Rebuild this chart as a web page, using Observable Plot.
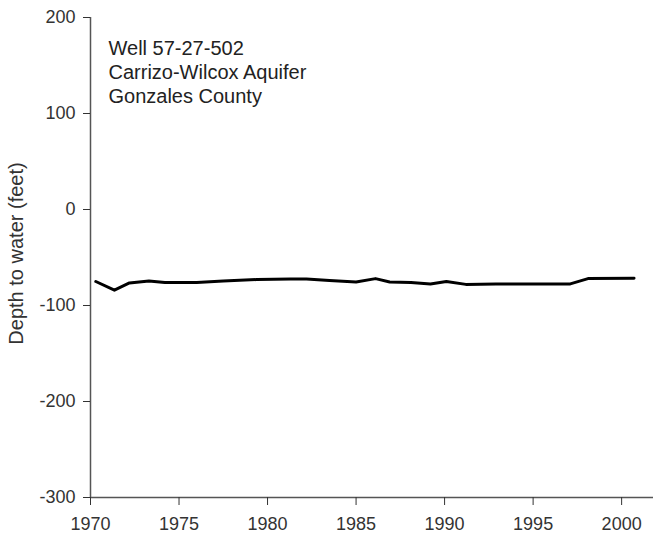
<!DOCTYPE html>
<html>
<head>
<meta charset="utf-8">
<script src="https://cdn.jsdelivr.net/npm/d3@7"></script>
<script src="https://cdn.jsdelivr.net/npm/@observablehq/plot@0.6"></script>
<style>
  html, body { margin: 0; padding: 0; background: #fff; }
</style>
</head>
<body>
<div id="chart"></div>
<script>
const years = [1970.3, 1971.35, 1972.2, 1973.3, 1974.2, 1976.0, 1977.5, 1979.4, 1981.3, 1982.2, 1983.5, 1985.0, 1986.1, 1986.9, 1988.1, 1989.2, 1990.1, 1991.2, 1992.9, 1997.1, 1998.1, 2000.7];
const depths = [-75, -84, -76.5, -74.5, -76, -76, -74.5, -73, -72.5, -72.5, -74, -75.5, -72, -75.5, -76, -77.5, -75, -78, -77.5, -77.5, -72, -71.5];
const xTicks = [1970, 1975, 1980, 1985, 1990, 1995, 2000];
const yTicks = [-300, -200, -100, 0, 100, 200];
const labelLines = ["Well 57-27-502", "Carrizo-Wilcox Aquifer", "Gonzales County"];
const yLabel = "Depth to water (feet)";

const data = years.map((y, i) => ({year: y, depth: depths[i]}));

const chart = Plot.plot({
  width: 653,
  height: 535,
  marginLeft: 90,
  marginRight: 0,
  marginTop: 17,
  marginBottom: 38,
  style: {fontFamily: "'Liberation Sans', Arial, sans-serif", fontSize: "18px", background: "#fff", color: "#333"},
  x: {domain: [1970, 2001.8]},
  y: {domain: [-300, 200]},
  marks: [
    Plot.ruleX([1970], {stroke: "#555", strokeWidth: 1.5}),
    Plot.ruleY([-300], {stroke: "#555", strokeWidth: 1.5}),
    Plot.axisX({ticks: xTicks, tickFormat: d => String(d), tickSize: 8, tickPadding: 12, fontSize: 18, fill: "#333", stroke: "#333", label: null}),
    Plot.axisY({ticks: yTicks, tickFormat: d => String(d), tickSize: 7, tickPadding: 8, fontSize: 18, fill: "#333", stroke: "#333", label: null}),
    Plot.text([yLabel], {frameAnchor: "left", textAnchor: "middle", dx: -74, dy: -4, rotate: -90, fontSize: 20, fill: "#333"}),
    Plot.line(data, {x: "year", y: "depth", stroke: "#000", strokeWidth: 3, strokeLinejoin: "round"}),
    Plot.text([labelLines.join("\n")], {frameAnchor: "top-left", dx: 18, dy: 20, lineAnchor: "top", textAnchor: "start", fontSize: 20, lineHeight: 1.2, fill: "#222"})
  ]
});
document.getElementById("chart").appendChild(chart);
</script>
</body>
</html>
